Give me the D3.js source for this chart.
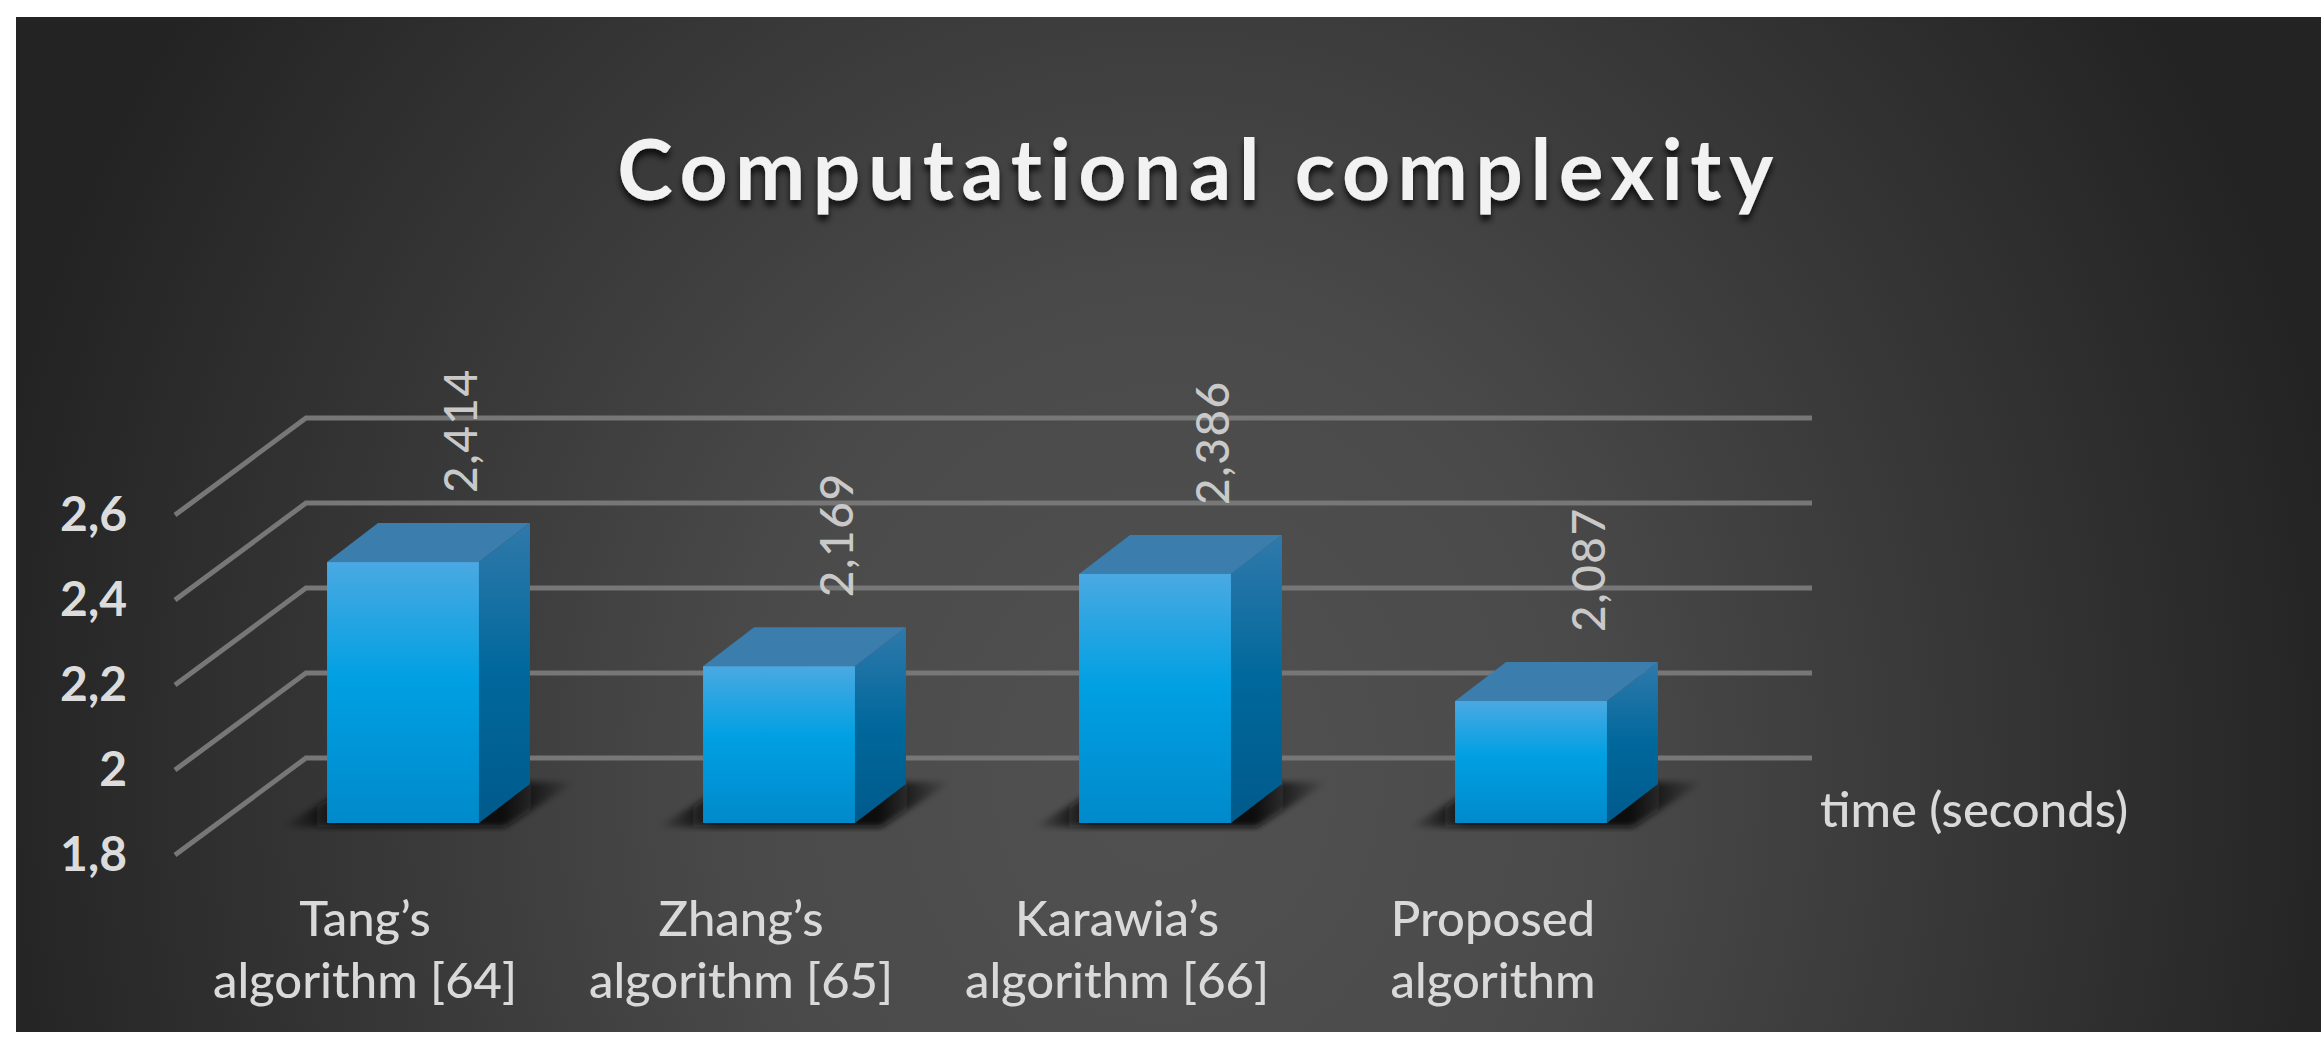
<!DOCTYPE html>
<html>
<head>
<meta charset="utf-8">
<title>Computational complexity</title>
<script src="https://cdnjs.cloudflare.com/ajax/libs/d3/7.8.5/d3.min.js"></script>
<style>
    body { margin: 0; background: #fff; overflow: hidden; }
    svg { display: block; }
    text { font-family: Lato, "Open Sans", sans-serif; }
</style>
</head>
<body>
<div id="chart"></div>
<script>
const categories = ["Tang’s|algorithm [64]", "Zhang’s|algorithm [65]", "Karawia’s|algorithm [66]", "Proposed|algorithm"];
const times = [2.414, 2.169, 2.386, 2.087];
const yTicks = [1.8, 2, 2.2, 2.4, 2.6];
const chartTitle = "Computational complexity";
const unitLabel = "time (seconds)";

const width = 2321, height = 1055;
const comma = s => String(s).replace(".", ",");

const svg = d3.select("#chart").append("svg")
    .attr("width", width)
    .attr("height", height);
const defs = svg.append("defs");

// scales live on the front plane of the 3D box
const x = d3.scaleBand().domain(categories).range([175, 1679]).paddingInner(0.596).paddingOuter(0.298);
const y = d3.scaleLinear().domain([1.8, 2.6]).range([855, 515]);

const wallDx = 131, wallDy = -97;     // front plane to back wall
const barDx = 40, barDy = -32;        // front plane to bar face
const sideDx = 51, sideDy = -39;      // bar depth

function linGrad(id, stops, attrs) {
    const g = defs.append("linearGradient").attr("id", id)
        .attr("x1", 0).attr("y1", 0).attr("x2", 0).attr("y2", 1);
    if (attrs) Object.keys(attrs).forEach(k => g.attr(k, attrs[k]));
    stops.forEach(s => g.append("stop").attr("offset", s[0]).attr("stop-color", s[1]).attr("stop-opacity", s[2] === undefined ? 1 : s[2]));
}

const bg = defs.append("radialGradient").attr("id", "bg")
    .attr("gradientUnits", "userSpaceOnUse")
    .attr("cx", 0).attr("cy", 0).attr("r", 1)
    .attr("gradientTransform", "translate(1165,780) scale(1200,1350)");
[[0, "#515151"], [0.35, "#4a4a4a"], [0.7, "#353535"], [1, "#232323"]].forEach(s =>
    bg.append("stop").attr("offset", s[0]).attr("stop-color", s[1]));

linGrad("face", [[0, "#4aa9e2"], [0.45, "#00a0e3"], [1, "#008acb"]]);
linGrad("side", [[0, "#3079ab"], [0.5, "#00689c"], [1, "#005a8c"]]);
linGrad("shadow", [[0, "#000", 0], [0.2, "#111", 1], [0.75, "#111", 1], [1, "#000", 0]], {x2: 1, y2: 0});

const blur = defs.append("filter").attr("id", "soft");
blur.append("feGaussianBlur").attr("stdDeviation", 3);
const titleShadow = defs.append("filter").attr("id", "titleShadow")
    .attr("x", "-5%").attr("y", "-20%").attr("width", "110%").attr("height", "150%");
titleShadow.append("feDropShadow").attr("dx", 0).attr("dy", 6).attr("stdDeviation", 3)
    .attr("flood-color", "#000").attr("flood-opacity", 0.75);

// panel
svg.append("rect")
    .attr("x", 16).attr("y", 17)
    .attr("width", width - 16).attr("height", 1015)
    .attr("fill", "url(#bg)");

// gridlines
svg.append("g").selectAll("path")
    .data(yTicks)
    .enter().append("path")
    .attr("fill", "none")
    .attr("stroke", "#777")
    .attr("stroke-width", 5)
    .attr("d", d => {
        const p = d3.path();
        p.moveTo(x.range()[0], y(d));
        p.lineTo(x.range()[0] + wallDx, y(d) + wallDy);
        p.lineTo(1812, y(d) + wallDy);
        return p.toString();
    });

// bars
const poly = pts => pts.map(p => p.join(",")).join(" ");
const rows = categories.map((c, i) => ({
    cat: c,
    value: times[i],
    x0: x(c) + barDx,
    x1: x(c) + barDx + x.bandwidth(),
    base: y(1.8) + barDy,
    top: y(times[i]) + barDy
}));

const bars = svg.append("g").selectAll("g")
    .data(rows)
    .enter().append("g");

bars.append("polygon")
    .attr("fill", "url(#shadow)")
    .attr("filter", "url(#soft)")
    .attr("points", d => poly([
        [d.x0 - 46, d.base + 4],
        [d.x0 + 30, d.base + sideDy - 2],
        [d.x1 + sideDx + 46, d.base + sideDy - 2],
        [d.x1 + 26, d.base + 4]
    ]));

bars.append("polygon")
    .attr("fill", "url(#side)")
    .attr("points", d => poly([
        [d.x1, d.top],
        [d.x1 + sideDx, d.top + sideDy],
        [d.x1 + sideDx, d.base + sideDy],
        [d.x1, d.base]
    ]));

bars.append("polygon")
    .attr("fill", "#3b7dad")
    .attr("points", d => poly([
        [d.x0, d.top],
        [d.x0 + sideDx, d.top + sideDy],
        [d.x1 + sideDx, d.top + sideDy],
        [d.x1, d.top]
    ]));

bars.append("rect")
    .attr("x", d => d.x0)
    .attr("y", d => d.top)
    .attr("width", x.bandwidth())
    .attr("height", d => d.base - d.top)
    .attr("fill", "url(#face)");

// value labels, rotated
bars.append("text")
    .attr("transform", d => `translate(${d.x0 + 150},${d.top - 69}) rotate(-90)`)
    .attr("font-size", 46)
    .attr("font-weight", 500)
    .attr("letter-spacing", 1.5)
    .attr("fill", "#c9c9c9")
    .text(d => comma(d.value));

// y axis
const yAxis = svg.append("g")
    .attr("transform", "translate(127,0)")
    .call(d3.axisLeft(y).tickValues(yTicks).tickSize(0).tickPadding(0).tickFormat(comma));
yAxis.select(".domain").remove();
yAxis.selectAll("text")
    .attr("font-size", 48)
    .attr("font-weight", 700)
    .attr("fill", "#dcdcdc");

// x axis, labels on two lines
const xAxis = svg.append("g")
    .attr("transform", "translate(0,936)")
    .call(d3.axisBottom(x).tickSize(0).tickFormat(""));
xAxis.select(".domain").remove();
xAxis.selectAll(".tick text").each(function(d) {
    const t = d3.select(this)
        .attr("y", 0).attr("dy", null)
        .attr("font-size", 49)
        .attr("font-weight", 500)
        .attr("fill", "#d9d9d9");
    d.split("|").forEach((line, i) => {
        t.append("tspan").attr("x", 2).attr("y", i * 62).text(line);
    });
});

svg.append("text")
    .attr("x", 1820).attr("y", 827)
    .attr("font-size", 49)
    .attr("font-weight", 500)
    .attr("fill", "#d9d9d9")
    .text(unitLabel);

svg.append("text")
    .attr("x", 1199).attr("y", 200)
    .attr("text-anchor", "middle")
    .attr("font-size", 84)
    .attr("font-weight", 700)
    .attr("letter-spacing", 7.4)
    .attr("fill", "#f2f2f2")
    .attr("filter", "url(#titleShadow)")
    .text(chartTitle);
</script>
</body>
</html>
